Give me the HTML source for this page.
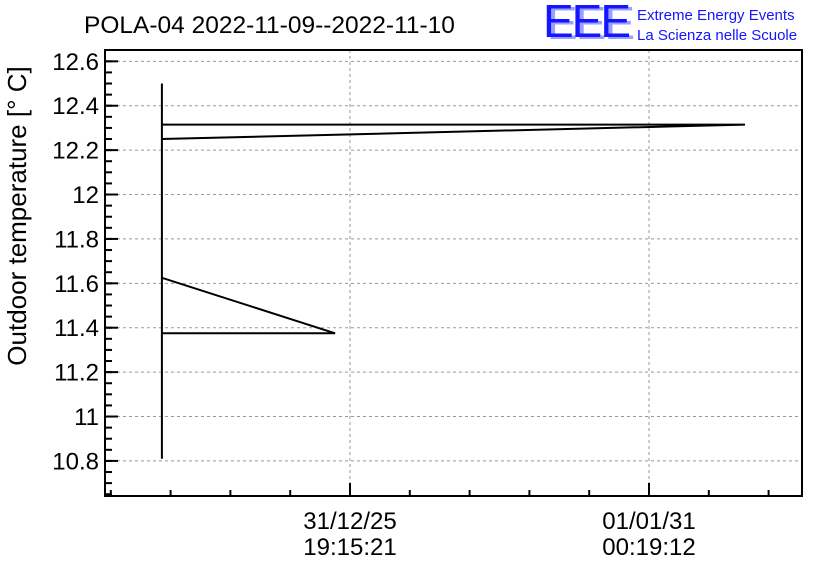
<!DOCTYPE html>
<html><head><meta charset="utf-8"><style>
body{margin:0;background:#fff;width:836px;height:572px;overflow:hidden}
text{font-family:"Liberation Sans",sans-serif}
</style></head><body>
<svg id="chart" width="836" height="572" viewBox="0 0 836 572" xmlns="http://www.w3.org/2000/svg">
<rect width="836" height="572" fill="#fff"/>
<text x="84" y="33" font-size="24.5">POLA-04 2022-11-09--2022-11-10</text>
<g fill="#1515ff">
<text x="547" y="39" font-size="46" fill="#9aa0ff" letter-spacing="-2">EEE</text>
<text x="543" y="37" font-size="46" letter-spacing="-2">EEE</text>
<text x="637" y="20" font-size="15">Extreme Energy Events</text>
<text x="637" y="40" font-size="15">La Scienza nelle Scuole</text>
</g>
<text transform="translate(26,216) rotate(-90)" font-size="26" text-anchor="middle">Outdoor temperature [° C]</text>
<g id="grid"></g><g id="series"></g><g id="axes"></g>
<rect x="105" y="50" width="697" height="446" fill="none" stroke="#000" stroke-width="2"/>
</svg>
<script>
const yTicks=[10.8,11,11.2,11.4,11.6,11.8,12,12.2,12.4,12.6];
const yTickLabels=["10.8","11","11.2","11.4","11.6","11.8","12","12.2","12.4","12.6"];
const xTicks=[0,1];
const xTickLabels=[["31/12/25","19:15:21"],["01/01/31","00:19:12"]];
const seriesX=[-0.629,-0.629,-0.629,-0.05,-0.629,-0.629,1.321,-0.629];
const seriesY=[12.5,10.81,11.375,11.375,11.625,12.25,12.315,12.315];
const L=105,R=802,T=50,B=496;
const yMin=10.642,yMax=12.651;
const sy=v=>B-(v-yMin)/(yMax-yMin)*(B-T);
const sx=v=>350+v*299;
const NS="http://www.w3.org/2000/svg";
function mk(tag,at,parent){const e=document.createElementNS(NS,tag);for(const k in at)e.setAttribute(k,at[k]);document.getElementById(parent).appendChild(e);return e;}
yTicks.forEach((v,i)=>{const y=sy(v);
 const g=mk('line',{x1:L,x2:R,y1:y,y2:y,stroke:'#999','stroke-dasharray':'3,3','stroke-width':1},'grid');
 
 
 const t=mk('line',{x1:L,x2:L+13,y1:y,y2:y,stroke:'#000','stroke-width':2},'axes');
 
 
 const tx=mk('text',{x:99,y:y+8.5,'font-size':24,'text-anchor':'end'},'axes');tx.textContent=yTickLabels[i];
 
 
});
for(let v=yTicks[0]-0.15;v<yMax;v+=0.05){const y=sy(v);if(y<T+1||y>B-1)continue;
 const t=mk('line',{x1:L,x2:L+7,y1:y,y2:y,stroke:'#000','stroke-width':2},'axes');
 
 }
xTicks.forEach((v,i)=>{const x=sx(v);
 const g=mk('line',{x1:x,x2:x,y1:T,y2:B,stroke:'#999','stroke-dasharray':'3,3','stroke-width':1},'grid');
 
 
 const t=mk('line',{x1:x,x2:x,y1:B,y2:B-13,stroke:'#000','stroke-width':2},'axes');
 
 
 xTickLabels[i].forEach((s,j)=>{const tx=mk('text',{x:x,y:529+j*26,'font-size':24,'text-anchor':'middle'},'axes');tx.textContent=s;
 
 });
});
for(let k=-4;k<=8;k++){const x=sx(k/5);if(x<L+3||x>R-3||k%5===0)continue;
 const t=mk('line',{x1:x,x2:x,y1:B,y2:B-6,stroke:'#000','stroke-width':2},'axes');
 
 }
const pts=seriesX.map((v,i)=>sx(v).toFixed(1)+','+sy(seriesY[i]).toFixed(1)).join(' ');
const pl=mk('polyline',{points:pts,fill:'none',stroke:'#000','stroke-width':2},'series');


</script>
</body></html>
